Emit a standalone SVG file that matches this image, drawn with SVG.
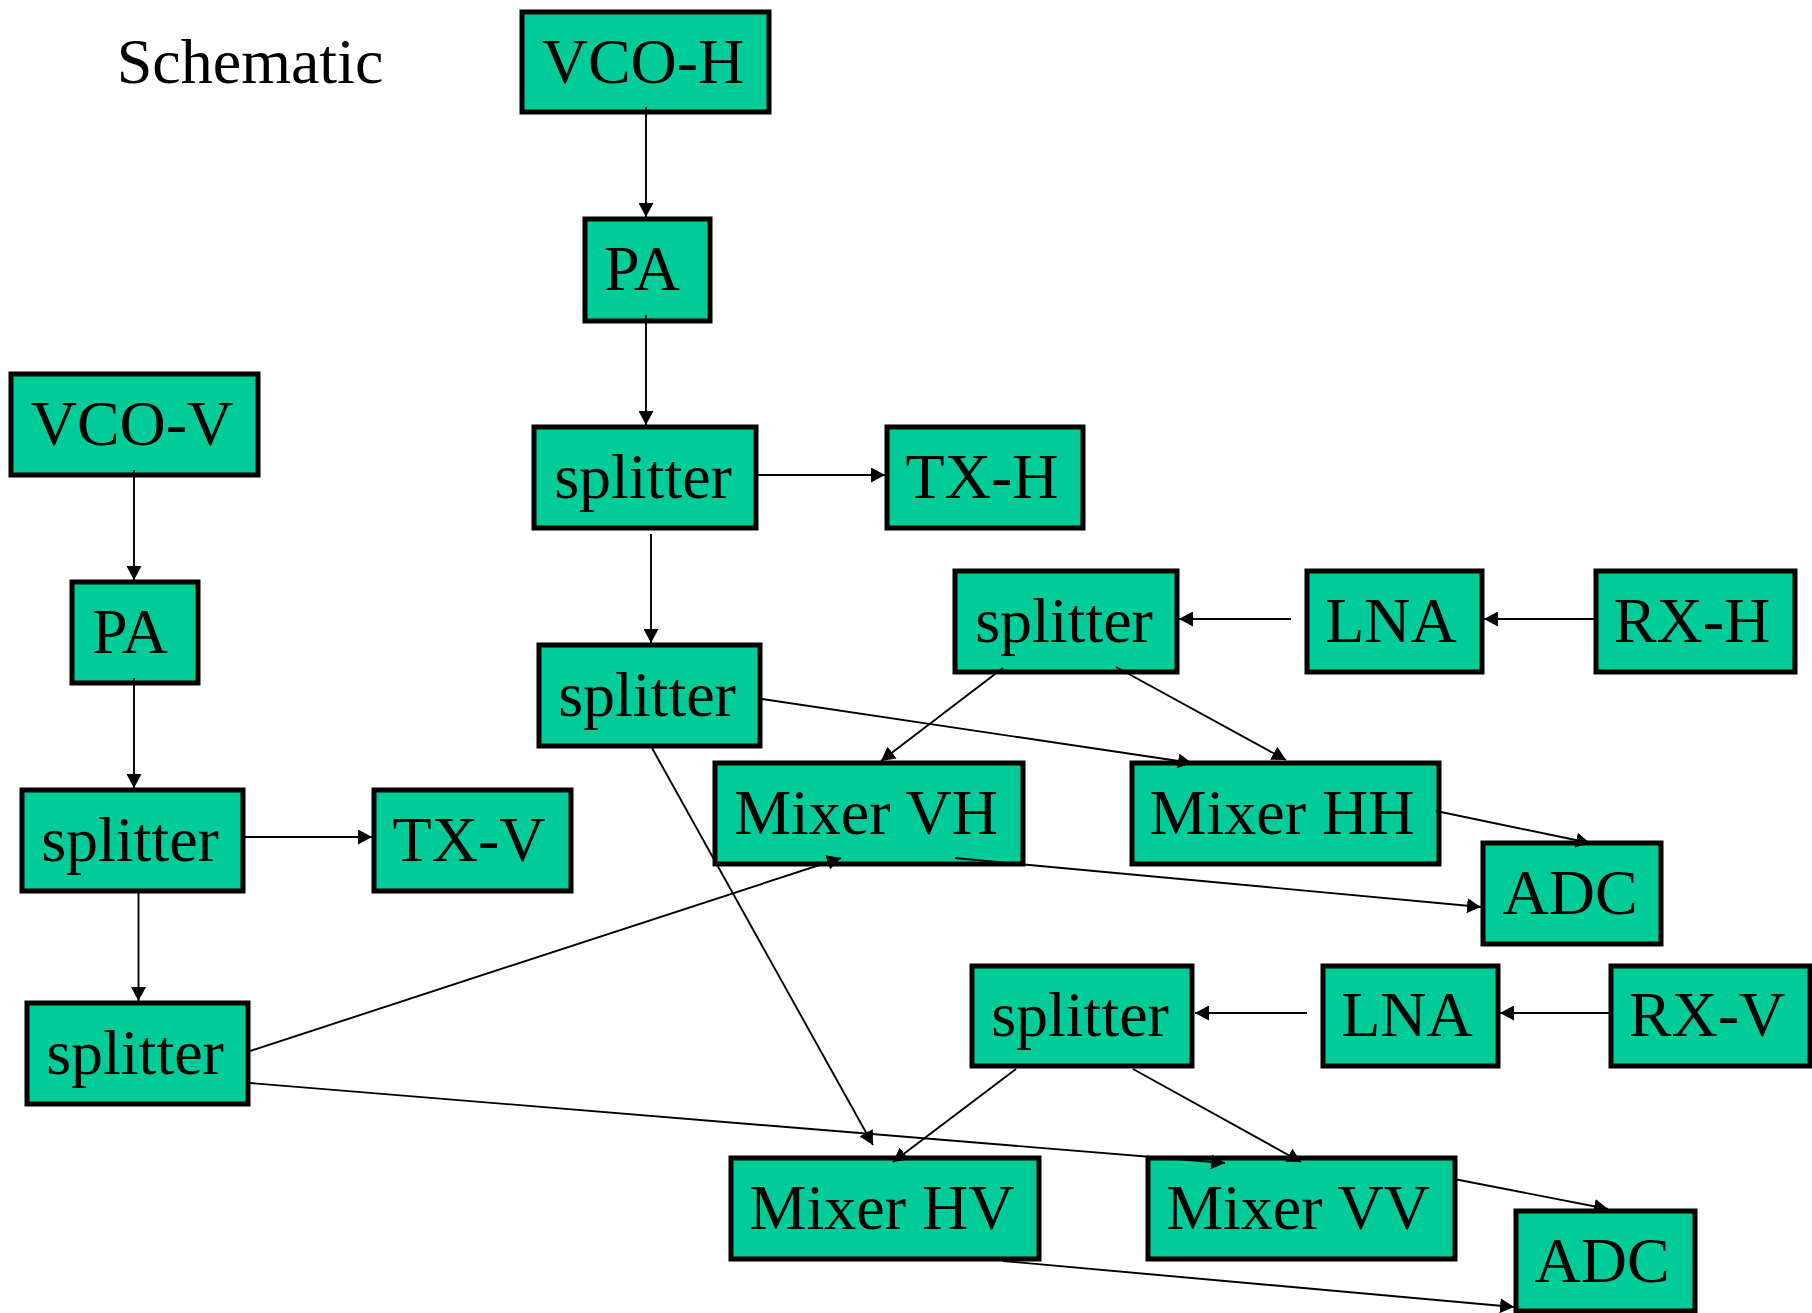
<svg xmlns="http://www.w3.org/2000/svg" width="1812" height="1313" viewBox="0 0 1812 1313">
<defs>
<style>
.n rect{fill:#00cc99;stroke:#000;stroke-width:5}
.n text,.t{font-family:"Liberation Serif","Times New Roman",serif;font-size:64px;fill:#000;text-anchor:middle}
.c line{stroke:#000;stroke-width:1.9;marker-end:url(#a)}
</style>
<marker id="a" markerUnits="userSpaceOnUse" markerWidth="15" markerHeight="15" refX="14" refY="7.5" orient="auto" viewBox="0 0 15 15">
<path d="M0,0 L14,7.5 L0,15 z" fill="#000"/>
</marker>
</defs>
<rect width="1812" height="1313" fill="#fff"/>
<text class="t" x="250" y="83">Schematic</text>
<g id="vco-h" class="n"><rect x="522" y="12" width="247" height="100"/><text x="643" y="83">VCO-H</text></g>
<g id="pa-h" class="n"><rect x="585" y="219" width="125" height="102"/><text x="642" y="290">PA</text></g>
<g id="splitter-h1" class="n"><rect x="534" y="427" width="222" height="101"/><text x="643" y="498">splitter</text></g>
<g id="tx-h" class="n"><rect x="887" y="427" width="196" height="101"/><text x="982" y="498">TX-H</text></g>
<g id="splitter-h2" class="n"><rect x="539" y="645" width="221" height="101"/><text x="647" y="716">splitter</text></g>
<g id="splitter-rxh" class="n"><rect x="955" y="571" width="222" height="101"/><text x="1064" y="642">splitter</text></g>
<g id="lna-h" class="n"><rect x="1307" y="571" width="175" height="101"/><text x="1391" y="642">LNA</text></g>
<g id="rx-h" class="n"><rect x="1596" y="571" width="199" height="101"/><text x="1692" y="642">RX-H</text></g>
<g id="mixer-vh" class="n"><rect x="715" y="763" width="308" height="101"/><text x="866" y="834">Mixer VH</text></g>
<g id="mixer-hh" class="n"><rect x="1132" y="763" width="307" height="101"/><text x="1282" y="834">Mixer HH</text></g>
<g id="adc-1" class="n"><rect x="1483" y="843" width="178" height="101"/><text x="1570" y="914">ADC</text></g>
<g id="vco-v" class="n"><rect x="11" y="374" width="247" height="101"/><text x="132" y="445">VCO-V</text></g>
<g id="pa-v" class="n"><rect x="72" y="582" width="126" height="101"/><text x="130" y="653">PA</text></g>
<g id="splitter-v1" class="n"><rect x="22" y="790" width="221" height="101"/><text x="130" y="861">splitter</text></g>
<g id="tx-v" class="n"><rect x="374" y="790" width="197" height="101"/><text x="469" y="861">TX-V</text></g>
<g id="splitter-v2" class="n"><rect x="27" y="1003" width="221" height="101"/><text x="135" y="1074">splitter</text></g>
<g id="splitter-rxv" class="n"><rect x="972" y="966" width="220" height="100"/><text x="1080" y="1036">splitter</text></g>
<g id="lna-v" class="n"><rect x="1323" y="966" width="175" height="100"/><text x="1407" y="1036">LNA</text></g>
<g id="rx-v" class="n"><rect x="1611" y="966" width="199" height="100"/><text x="1707" y="1036">RX-V</text></g>
<g id="mixer-hv" class="n"><rect x="731" y="1158" width="308" height="101"/><text x="882" y="1229">Mixer HV</text></g>
<g id="mixer-vv" class="n"><rect x="1148" y="1158" width="307" height="101"/><text x="1298" y="1229">Mixer VV</text></g>
<g id="adc-2" class="n"><rect x="1516" y="1211" width="179" height="100"/><text x="1602" y="1282">ADC</text></g>
<g id="connectors" class="c">
<line x1="646" y1="107" x2="646" y2="217"/>
<line x1="646" y1="315" x2="646" y2="425"/>
<line x1="758" y1="475" x2="885" y2="475"/>
<line x1="651" y1="534" x2="651" y2="643"/>
<line x1="762" y1="699" x2="1192" y2="763"/>
<line x1="652" y1="748" x2="873" y2="1145"/>
<line x1="1003" y1="668" x2="881" y2="761"/>
<line x1="1116" y1="667" x2="1286" y2="760"/>
<line x1="1291" y1="619" x2="1179" y2="619"/>
<line x1="1594" y1="619" x2="1484" y2="619"/>
<line x1="1436" y1="811" x2="1590" y2="843"/>
<line x1="955" y1="858" x2="1481" y2="907"/>
<line x1="134" y1="470" x2="134" y2="580"/>
<line x1="134" y1="678" x2="134" y2="788"/>
<line x1="245" y1="837" x2="372" y2="837"/>
<line x1="138.5" y1="893" x2="138.5" y2="1001"/>
<line x1="250" y1="1051" x2="841" y2="858"/>
<line x1="250" y1="1083" x2="1225" y2="1163"/>
<line x1="1016" y1="1069" x2="893" y2="1162"/>
<line x1="1133" y1="1069" x2="1301" y2="1162"/>
<line x1="1307" y1="1013" x2="1195" y2="1013"/>
<line x1="1609" y1="1013" x2="1500" y2="1013"/>
<line x1="1454" y1="1179" x2="1608" y2="1209"/>
<line x1="1003" y1="1261" x2="1514" y2="1307"/>
</g>
</svg>
